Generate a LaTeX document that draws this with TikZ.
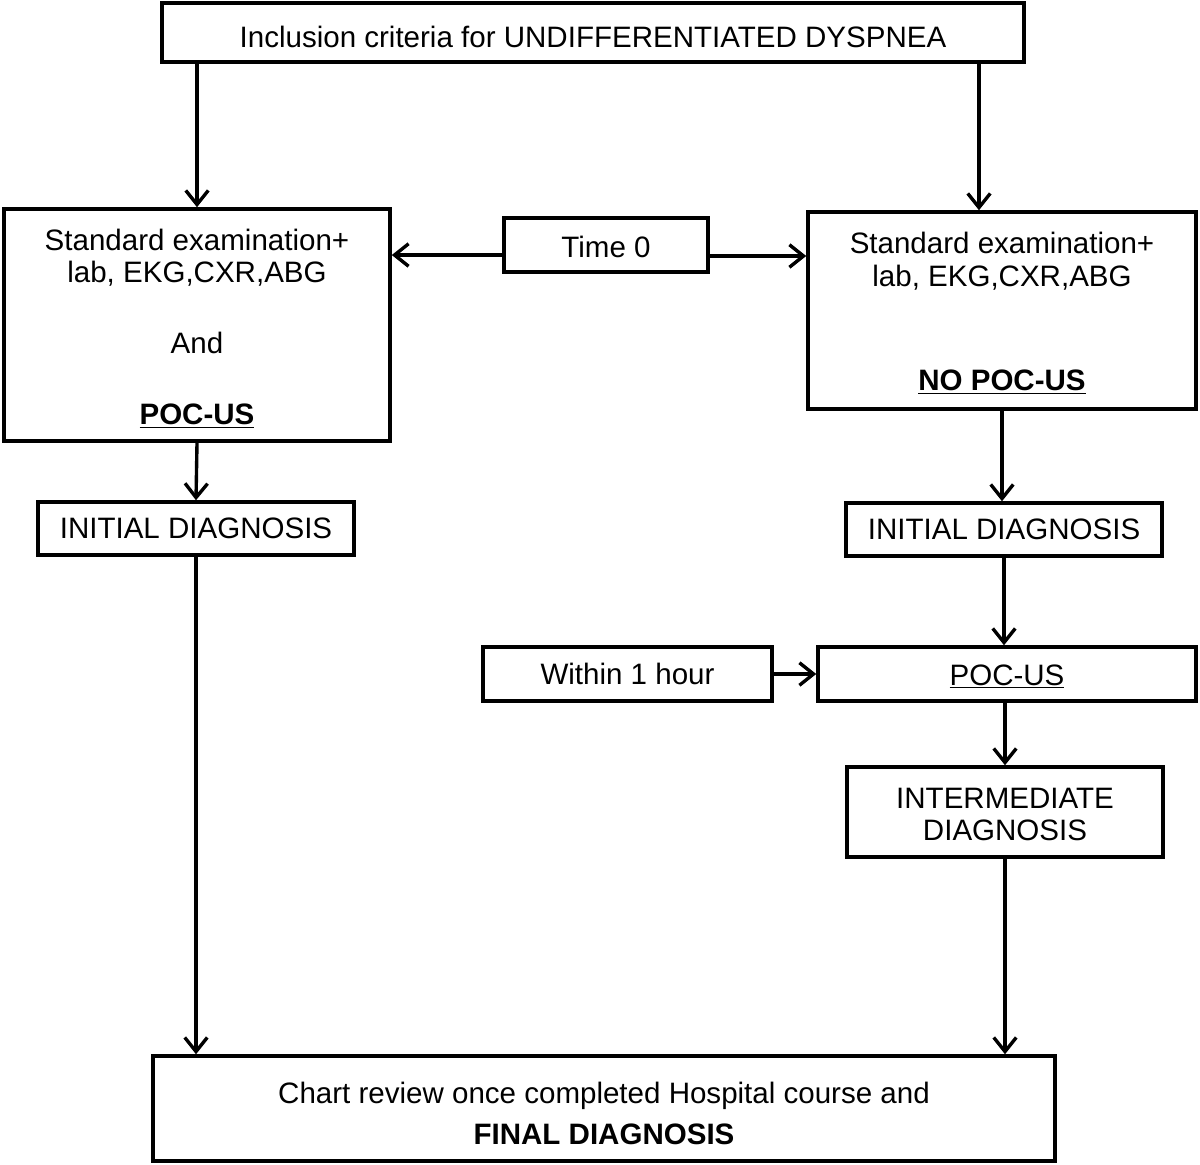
\documentclass[tikz,border=0pt]{standalone}
\usepackage{fontspec}
\setmainfont{Liberation Sans}
\usetikzlibrary{arrows.meta,calc}

\tikzset{
  box/.style={draw, line width=2.5pt, align=center, inner sep=0pt,
    font=\fontsize{21}{23}\selectfont},
  arr/.style={line width=2.4pt, -{Straight Barb[length=10pt,width=16pt,line width=2.4pt]}}
}

\begin{document}
\begin{tikzpicture}[x=0.025cm, y=-0.025cm]
  \useasboundingbox (0,0) rectangle (1200,1164);
  % Boxes
  \node[box, minimum width=21.55cm, minimum height=1.475cm] (incl) at (593,32.5)
    {\rule{0pt}{22pt}Inclusion criteria for UNDIFFERENTIATED DYSPNEA};
  \node[box, minimum width=9.65cm, minimum height=5.8cm] (stdpoc) at (197,325)
    {\rule{0pt}{20pt}Standard examination+\\lab, EKG,CXR,ABG\\[27.5pt]And\\[27.5pt]\textbf{\underline{POC-US}}};
  \node[box, minimum width=5.1cm, minimum height=1.35cm] (time) at (606,245)
    {\rule{0pt}{18pt}Time 0};
  \node[box, minimum width=9.7cm, minimum height=4.925cm] (stdnopoc) at (1002,310.5)
    {\rule{0pt}{19pt}Standard examination+\\lab, EKG,CXR,ABG\\[51.5pt]\textbf{\underline{NO POC-US}}};
  \node[box, minimum width=7.9cm, minimum height=1.325cm] (initl) at (196,528.5) {INITIAL DIAGNOSIS};
  \node[box, minimum width=7.9cm, minimum height=1.325cm] (initr) at (1004,529.5) {INITIAL DIAGNOSIS};
  \node[box, minimum width=7.225cm, minimum height=1.35cm] (hour) at (627.5,674) {Within 1 hour};
  \node[box, minimum width=9.45cm, minimum height=1.35cm] (pocus) at (1007,674)
    {\rule{0pt}{18pt}\underline{POC-US}};
  \node[box, minimum width=7.9cm, minimum height=2.25cm] (interm) at (1005,812)
    {\rule{0pt}{18pt}INTERMEDIATE\\DIAGNOSIS};
  \node[box, minimum width=22.55cm, minimum height=2.625cm] (final) at (604,1108.5)
    {\rule{0pt}{22pt}Chart review once completed Hospital course and\\[6pt]\textbf{FINAL DIAGNOSIS}};
  % Arrow ends
  \coordinate (nopocin) at ($(stdnopoc.north)+(-23,0)$);
  \coordinate (timel) at ($(time.west)+(0,10)$);
  \coordinate (timer) at ($(time.east)+(0,11)$);
  % Arrows
  \draw[arr] (incl.south -| stdpoc.north) -- (stdpoc.north);
  \draw[arr] (nopocin |- incl.south) -- (nopocin);
  \draw[arr] (timel) -- (timel -| stdpoc.east);
  \draw[arr] (timer) -- (timer -| stdnopoc.west);
  \draw[arr] (stdpoc.south) -- (initl.north);
  \draw[arr] (stdnopoc.south) -- (stdnopoc.south |- initr.north);
  \draw[arr] (initr.south) -- (initr.south |- pocus.north);
  \draw[arr] (hour.east) -- (pocus.west);
  \draw[arr] (pocus.south -| interm.north) -- (interm.north);
  \draw[arr] (initl.south) -- (initl.south |- final.north);
  \draw[arr] (interm.south) -- (interm.south |- final.north);
\end{tikzpicture}
\end{document}
